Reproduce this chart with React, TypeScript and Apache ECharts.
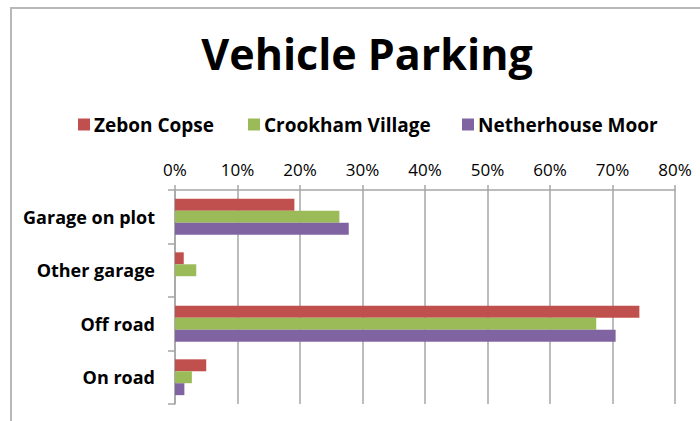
import React, { useEffect, useRef } from "react";
import * as echarts from "echarts";

const categories = ["Garage on plot", "Other garage", "Off road", "On road"];
const seriesNames = ["Zebon Copse", "Crookham Village", "Netherhouse Moor"];
const zebonCopse = [0.191, 0.014, 0.743, 0.05];
const crookhamVillage = [0.263, 0.034, 0.674, 0.027];
const netherhouseMoor = [0.278, 0, 0.705, 0.015];
const tickValues = [0, 0.1, 0.2, 0.3, 0.4, 0.5, 0.6, 0.7, 0.8];
const colors = ["#C0504D", "#9BBB59", "#8064A2"];
const legendLeft = [73, 243, 457];

export default function App() {
  const ref = useRef<HTMLDivElement>(null);
  useEffect(() => {
    if (!ref.current) return;
    const chart = echarts.init(ref.current, null, { renderer: "svg" });
    const font = "Open Sans";
    const values = [zebonCopse, crookhamVillage, netherhouseMoor];
    chart.setOption({
      animation: false,
      backgroundColor: "#ffffff",
      textStyle: { fontFamily: font },
      title: {
        text: "Vehicle Parking",
        left: 362,
        top: 27,
        textAlign: "center",
        textStyle: { fontFamily: font, fontWeight: "bold", fontSize: 43, color: "#000" },
      },
      legend: seriesNames.map((n, i) => ({
        data: [n],
        left: legendLeft[i],
        top: 110,
        itemWidth: 12,
        itemHeight: 12,
        itemGap: 6,
        icon: "rect",
        textStyle: { fontFamily: font, fontWeight: "bold", fontSize: 19, color: "#000", padding: [0, 0, 0, -1] },
      })),
      graphic: [
        {
          type: "rect",
          shape: { x: 11, y: 8, width: 760, height: 500 },
          style: { fill: "none", stroke: "#b8b8b8", lineWidth: 2 },
          silent: true,
        },
      ],
      grid: { left: 175, right: 25, top: 190, bottom: 17, containLabel: false },
      xAxis: {
        type: "value",
        position: "top",
        min: tickValues[0],
        max: tickValues[tickValues.length - 1],
        interval: 0.1,
        axisLine: { show: true, lineStyle: { color: "#a6a6a6", width: 1.5 } },
        axisTick: { show: true, length: 5, lineStyle: { color: "#a6a6a6", width: 1.5 } },
        splitLine: { show: true, lineStyle: { color: "#a6a6a6", width: 1.5 } },
        axisLabel: {
          fontFamily: font,
          fontSize: 17,
          color: "#000",
          margin: 12,
          formatter: (v: number) => Math.round(v * 100) + "%",
        },
      },
      yAxis: {
        type: "category",
        inverse: true,
        data: categories,
        axisLine: { show: true, lineStyle: { color: "#a6a6a6", width: 1.5 } },
        axisTick: { show: true, length: 7, lineStyle: { color: "#a6a6a6", width: 1.5 } },
        splitLine: { show: false },
        axisLabel: { fontFamily: font, fontWeight: "bold", fontSize: 18, color: "#000", margin: 20 },
      },
      series: seriesNames.map((n, i) => ({
        name: n,
        type: "bar",
        data: values[i],
        barGap: "0%",
        barCategoryGap: "33%",
        itemStyle: { color: colors[i] },
      })),
    });
    return () => chart.dispose();
  }, []);
  return <div ref={ref} style={{ position: "fixed", left: 0, top: 0, width: 700, height: 421 }} />;
}
